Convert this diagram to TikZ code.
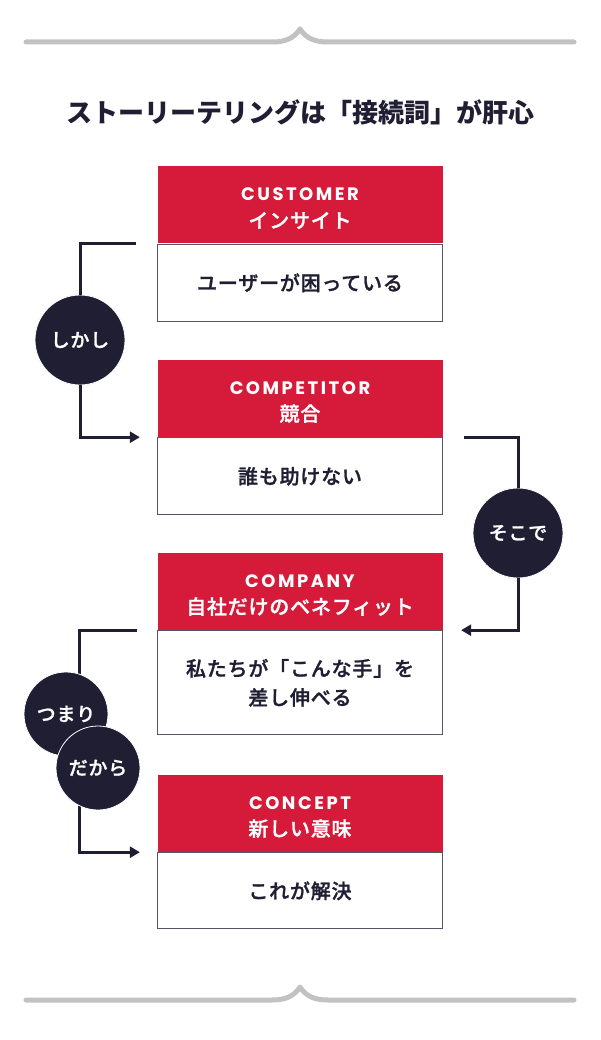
\documentclass[tikz,border=0pt]{standalone}
\usepackage{fontspec}
\setmainfont{Noto Sans CJK JP}
\newfontfamily\midfont[LetterSpace=4, FakeBold=1.2]{Noto Sans CJK JP Medium}
\newfontfamily\capsfont[LetterSpace=14]{Poppins}
\usetikzlibrary{arrows.meta,positioning}
\definecolor{storyred}{HTML}{D61B3A}
\definecolor{storyink}{HTML}{1F1E33}
\definecolor{storyrule}{HTML}{C2C2C2}
\definecolor{storyedge}{HTML}{55556A}
\newcommand{\capword}[1]{{\capsfont\bfseries\fontsize{18}{27}\selectfont\rule{0pt}{20pt}#1}}
\begin{document}
\begin{tikzpicture}[x=1pt, y=-1pt,
    head/.style = {fill=storyred, text=white, minimum width=285pt, minimum height=77pt,
      inner sep=0pt, align=center, font=\midfont\fontsize{20}{27}\selectfont},
    body/.style = {draw=storyedge, line width=1.2pt, fill=white, text=storyink,
      minimum width=285pt, minimum height=77pt, inner sep=0pt, align=center,
      font=\midfont\fontsize{20}{29}\selectfont},
    word/.style = {circle, fill=storyink, draw=white, line width=0.8pt, text=white,
      minimum size=90pt, inner sep=0pt, font=\midfont\fontsize{19}{19}\selectfont},
    link/.style = {draw=storyink, line width=3pt},
    linkarrow/.style = {link, -{Triangle[length=10pt,width=11pt]}},
    rule/.style = {draw=storyrule, line width=5pt, line cap=round, line join=round}]
    \useasboundingbox (0,0) rectangle (600,1040);
    \fill[white] (0,0) rectangle (600,1040);
    % rules
    \draw[rule] (26,42) -- (272,42) .. controls (286,42) and (294,38) .. (300,29)
      .. controls (306,38) and (314,42) .. (328,42) -- (574,42);
    \draw[rule] (26,1000) -- (272,1000) .. controls (286,1000) and (294,996) .. (300,987)
      .. controls (306,996) and (314,1000) .. (328,1000) -- (574,1000);
    \node[text=storyink, font=\bfseries\fontsize{26}{26}\selectfont] (title) at (300,112)
      {ストーリーテリングは「接続詞」が肝心};
    % boxes
    \node[head] (cust-h) at (300,205) {\capword{CUSTOMER}\\インサイト};
    \node[body, below=0pt of cust-h] (cust-b) {ユーザーが困っている};
    \node[head] (comp-h) at (300,398.5) {\capword{COMPETITOR}\\競合};
    \node[body, below=0pt of comp-h] (comp-b) {誰も助けない};
    \node[head] (comy-h) at (300,591.5) {\capword{COMPANY}\\自社だけのベネフィット};
    \node[body, minimum height=104pt, below=0pt of comy-h] (comy-b) {私たちが「こんな手」を\\差し伸べる};
    \node[head] (conc-h) at (300,813.5) {\capword{CONCEPT}\\新しい意味};
    \node[body, minimum height=76pt, below=0pt of conc-h] (conc-b) {これが解決};
    % connectors
    \draw[linkarrow] ([xshift=-20pt]comy-b.north west) -| ([xshift=-77pt]conc-b.north west)
      -- ([xshift=-17pt]conc-b.north west);
    \node[word] (shikashi) at (80,340) {しかし};
    \node[word] (sokode) at (518,533) {そこで};
    \node[word, minimum size=84pt] (tsumari) at (66,714) {つまり};
    \node[word, minimum size=84pt] (dakara) at (98,768) {だから};
    \draw[link] ([xshift=-21pt]cust-b.north west) -| (shikashi.north);
    \draw[linkarrow] (shikashi.south) |- ([xshift=-17pt]comp-b.north west);
    \draw[link] ([xshift=21pt]comp-b.north east) -| (sokode.north);
    \draw[linkarrow] (sokode.south) |- ([xshift=18pt]comy-b.north east);
\end{tikzpicture}
\end{document}
